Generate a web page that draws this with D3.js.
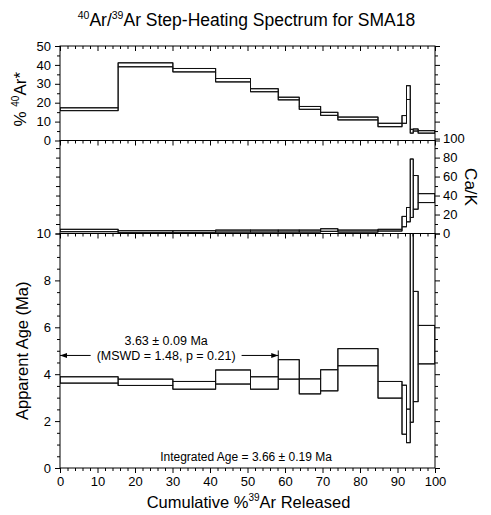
<!DOCTYPE html>
<html>
<head>
<meta charset="utf-8">
<script src="https://cdn.jsdelivr.net/npm/d3@7"></script>
<style>
    body { margin: 0; background: #fff; }
    svg { font-family: "Liberation Sans", Arial, Helvetica, sans-serif; }
    .frame { fill: none; stroke: #000; stroke-width: 1; }
    .step { fill: none; stroke: #111; stroke-width: 1; }
    .axis line { stroke: #000; }
    .axis text { font-size: 13px; fill: #000; font-family: "Liberation Sans", Arial, sans-serif; }
</style>
</head>
<body>
<div id="chart"></div>
<script>
// cumulative %39Ar at the step boundaries (15 steps)
const stepEdges = [0, 15.5, 30.1, 41.5, 50.8, 58.2, 63.8, 69.5, 74.1, 84.8, 91.2, 92.4, 93.4, 94.2, 95.5, 100];

// % 40Ar* (lower / upper edge of each step)
const radLo = [15.8, 39.0, 36.3, 31.0, 25.8, 21.5, 16.5, 13.3, 10.9, 7.3, 9.1, 21.7, 3.9, 5.0, 3.9];
const radHi = [17.3, 41.1, 38.1, 32.8, 27.4, 22.9, 18.0, 14.9, 12.4, 9.1, 13.2, 29.0, 5.9, 6.1, 5.2];

// Ca/K
const caLo = [1.9, 0.8, 0.8, 1.5, 1.5, 1.5, 1.5, 2.3, 1.5, 2.6, 7.1, 12.3, 16.9, 25.6, 32.6];
const caHi = [4.4, 2.9, 2.9, 3.6, 3.6, 3.6, 3.6, 5.0, 3.6, 4.4, 18.0, 27.4, 78.5, 61.1, 42.0];

// apparent age (Ma)
const ageLo = [3.62, 3.52, 3.36, 3.58, 3.36, 3.79, 3.16, 3.29, 4.36, 2.98, 1.44, 1.08, 1.95, 2.83, 4.44];
const ageHi = [3.89, 3.79, 3.69, 4.18, 3.89, 4.62, 3.80, 4.19, 5.09, 3.69, 3.53, 2.51, 14.0, 7.53, 6.08];

// plateau and integrated age
const plateau = { age: 3.63, err: 0.09, mswd: 1.48, p: 0.21, from: 0, to: 58.2, arrowAt: 4.8 };
const integrated = { age: 3.66, err: 0.19 };

// ticks
const xTicks = [0, 10, 20, 30, 40, 50, 60, 70, 80, 90, 100];
const xMinor = [2, 4, 6, 8, 12, 14, 16, 18, 22, 24, 26, 28, 32, 34, 36, 38, 42, 44, 46, 48,
    52, 54, 56, 58, 62, 64, 66, 68, 72, 74, 76, 78, 82, 84, 86, 88, 92, 94, 96, 98];
const radTicks = [0, 10, 20, 30, 40, 50];
const radMinor = [5, 15, 25, 35, 45];
const caTicks = [0, 20, 40, 60, 80, 100];
const caMinor = [10, 30, 50, 70, 90];
const ageTicks = [0, 2, 4, 6, 8, 10];
const ageMinor = [0.5, 1, 1.5, 2.5, 3, 3.5, 4.5, 5, 5.5, 6.5, 7, 7.5, 8.5, 9, 9.5];

const width = 491, height = 515;
const left = 60, right = 435;
const topY = [46, 140.5], midY = [140.5, 233.5], botY = [233.5, 468];

let svg = d3.select('#chart').append('svg')
    .attr('width', width)
    .attr('height', height);

let x = d3.scaleLinear().domain([0, 100]).range([left, right]);
let yRad = d3.scaleLinear().domain([0, 50]).range([topY[1], topY[0]]);
let yCa = d3.scaleLinear().domain([0, 98]).range([midY[1], midY[0]]);
let yAge = d3.scaleLinear().domain([0, 10]).range([botY[1], botY[0]]);

function addAxis(tx, ty, axisFn, scale, values, size, padding) {
    let a = axisFn(scale).tickValues(values).tickSize(size);
    if (padding === undefined) a.tickFormat('');
    else a.tickPadding(padding).tickFormat(d3.format('d'));
    let g = svg.append('g')
        .attr('class', 'axis')
        .attr('transform', `translate(${tx},${ty})`)
        .call(a);
    g.select('.domain').remove();
    return g;
}

// outline joining the steps: upper edge forward, lower edge back
function bandPoints(lo, hi) {
    let pts = [];
    for (let i = 0; i < lo.length; i++) {
        pts.push([stepEdges[i], hi[i]], [stepEdges[i + 1], hi[i]]);
    }
    for (let i = lo.length - 1; i >= 0; i--) {
        pts.push([stepEdges[i + 1], lo[i]], [stepEdges[i], lo[i]]);
    }
    return pts;
}

function drawPanel(id, ys, yScale, lo, hi) {
    svg.append('clipPath').attr('id', id)
        .append('rect')
        .attr('x', left).attr('y', ys[0])
        .attr('width', right - left).attr('height', ys[1] - ys[0]);

    let g = svg.append('g').attr('clip-path', `url(#${id})`);

    let line = d3.line().x(d => x(d[0])).y(d => yScale(d[1]));
    g.append('path')
        .attr('class', 'step')
        .attr('d', line(bandPoints(lo, hi)) + 'Z');

    // each step as its own box
    g.selectAll('rect.box')
        .data(lo.map((v, i) => ({ x0: stepEdges[i], x1: stepEdges[i + 1], lo: v, hi: hi[i] })))
        .enter()
        .append('rect')
            .classed('box', true)
            .classed('step', true)
            .attr('x', d => x(d.x0))
            .attr('width', d => x(d.x1) - x(d.x0))
            .attr('y', d => yScale(d.hi))
            .attr('height', d => yScale(d.lo) - yScale(d.hi));

    svg.append('rect')
        .attr('class', 'frame')
        .attr('x', left).attr('y', ys[0])
        .attr('width', right - left).attr('height', ys[1] - ys[0]);

    // ticks along the top edge, pointing into the panel
    addAxis(0, ys[0], d3.axisBottom, x, xTicks, 5);
    addAxis(0, ys[0], d3.axisBottom, x, xMinor, 3);
}

drawPanel('clipRad', topY, yRad, radLo, radHi);
drawPanel('clipCa', midY, yCa, caLo, caHi);
drawPanel('clipAge', botY, yAge, ageLo, ageHi);

// top panel axes
addAxis(left, 0, d3.axisLeft, yRad, radTicks, 5, 4);
addAxis(left, 0, d3.axisLeft, yRad, radMinor, 3);
addAxis(right, 0, d3.axisRight, yRad, radTicks, 5);
addAxis(right, 0, d3.axisRight, yRad, radMinor, 3);

// middle panel axes
addAxis(left, 0, d3.axisLeft, yCa, caTicks.filter(v => v < 100), 4);
addAxis(left, 0, d3.axisLeft, yCa, caMinor, 4);
addAxis(right, 0, d3.axisRight, yCa, caTicks, 5, 3);
addAxis(right, 0, d3.axisRight, yCa, caMinor, 3);

// bottom panel axes
addAxis(left, 0, d3.axisLeft, yAge, ageTicks, 5, 4);
addAxis(left, 0, d3.axisLeft, yAge, ageMinor, 3);
addAxis(right, 0, d3.axisRight, yAge, ageTicks, 5);
addAxis(right, 0, d3.axisRight, yAge, ageMinor, 3);
addAxis(0, botY[1], d3.axisBottom, x, xTicks, 5, 4);
addAxis(0, botY[1], d3.axisBottom, x, xMinor, 3);

// plateau arrow
let ay = yAge(plateau.arrowAt);
let ax0 = x(plateau.from), ax1 = x(plateau.to);
let cx = (ax0 + ax1) / 2 - 3;
let pg = svg.append('g').attr('font-size', 12.5);

pg.append('text')
    .attr('x', cx).attr('y', ay - 10)
    .attr('text-anchor', 'middle')
    .text(`${plateau.age.toFixed(2)} \u00b1 ${plateau.err.toFixed(2)} Ma`);
let mswd = pg.append('text')
    .attr('x', cx).attr('y', ay + 4.5)
    .attr('text-anchor', 'middle')
    .text(`(MSWD = ${plateau.mswd.toFixed(2)}, p = ${plateau.p.toFixed(2)})`);

let tw = mswd.node().getComputedTextLength();
pg.append('line').attr('stroke', '#000')
    .attr('x1', ax0).attr('x2', cx - tw / 2 - 6).attr('y1', ay).attr('y2', ay);
pg.append('line').attr('stroke', '#000')
    .attr('x1', cx + tw / 2 + 6).attr('x2', ax1).attr('y1', ay).attr('y2', ay);
pg.append('path')
    .attr('d', `M${ax0},${ay}l7,-2.5v5z`);
pg.append('path')
    .attr('d', `M${ax1},${ay}l-7,-2.5v5z`);
pg.append('line').attr('stroke', '#000')
    .attr('x1', ax1).attr('x2', ax1).attr('y1', ay - 5).attr('y2', ay + 4);

// integrated age
svg.append('text')
    .attr('x', x(50) - 1.5).attr('y', botY[1] - 7)
    .attr('text-anchor', 'middle')
    .attr('font-size', 12)
    .text(`Integrated Age = ${integrated.age.toFixed(2)} \u00b1 ${integrated.err.toFixed(2)} Ma`);

// title
let title = svg.append('text')
    .attr('x', 246.5).attr('y', 26)
    .attr('text-anchor', 'middle')
    .attr('font-size', 17.5);
title.append('tspan').attr('font-size', 10.5).attr('dy', -7).text('40');
title.append('tspan').attr('dy', 7).text('Ar/');
title.append('tspan').attr('font-size', 10.5).attr('dy', -7).text('39');
title.append('tspan').attr('dy', 7).text('Ar Step-Heating Spectrum for SMA18');

// axis titles
let yl1 = svg.append('text')
    .attr('transform', `translate(26,${(topY[0] + topY[1]) / 2 + 6}) rotate(-90)`)
    .attr('text-anchor', 'middle')
    .attr('font-size', 17);
yl1.append('tspan').text('% ');
yl1.append('tspan').attr('font-size', 10).attr('dy', -7).text('40');
yl1.append('tspan').attr('dy', 7).text('Ar*');

svg.append('text')
    .attr('transform', `translate(465,${(midY[0] + midY[1]) / 2}) rotate(90)`)
    .attr('text-anchor', 'middle')
    .attr('font-size', 17)
    .text('Ca/K');

svg.append('text')
    .attr('transform', `translate(28,${(botY[0] + botY[1]) / 2}) rotate(-90)`)
    .attr('text-anchor', 'middle')
    .attr('font-size', 16.5)
    .text('Apparent Age (Ma)');

let xl = svg.append('text')
    .attr('x', 248.5).attr('y', 508)
    .attr('text-anchor', 'middle')
    .attr('font-size', 16.5);
xl.append('tspan').text('Cumulative %');
xl.append('tspan').attr('font-size', 10).attr('dy', -7).text('39');
xl.append('tspan').attr('dy', 7).text('Ar Released');
</script>
</body>
</html>
